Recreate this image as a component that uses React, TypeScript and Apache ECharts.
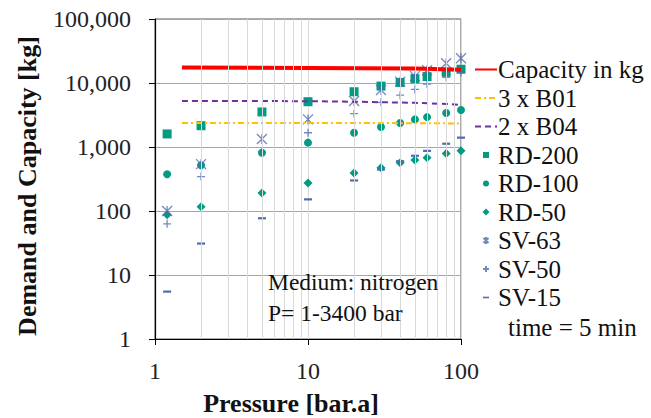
import React, { useEffect, useRef } from "react";
import * as echarts from "echarts";

const pressures = [1.2, 2, 5, 10, 20, 30, 40, 50, 60, 80, 100];
const rd200 = [1600, 2150, 3530, 5100, 7300, 8950, 10200, 11700, 12600, 14700, 16400];
const rd100 = [375, 520, 815, 1170, 1670, 2050, 2370, 2700, 2930, 3400, 3780];
const rd50 = [87, 117, 191, 275, 393, 475, 565, 628, 680, 790, 875];
const sv63 = [100, 540, 1330, 2700, 5230, 7770, 10500, 12800, 15800, 20300, 24400];
const sv50 = [63, 345, 840, 1670, 3320, 4990, 6450, 7950, 9600, 12300, 14700];
const sv15 = [5.5, 31, 77, 152, 300, 445, 600, 730, 870, 1125, 1400];

const capacityX = [1.5, 10, 50, 100];
const capacityY = [17500, 17200, 16800, 16100];
const b01X = [1.5, 50, 100];
const b01Y = [2370, 2360, 2330];
const b04X = [1.5, 10, 20, 50, 80, 100];
const b04Y = [5250, 5200, 5100, 4900, 4700, 4550];

const minorGridX = [2, 3, 4, 5, 6, 7, 8, 9, 20, 30, 40, 50, 60, 70, 80, 90];

const TEAL = "#009b80";
const BLUE = "#4f6bb0";
const FONT = "'Liberation Serif', 'Times New Roman', serif";

const zip = (xs: number[], ys: number[]) => xs.map((x, i) => [x, ys[i]]);

export default function App() {
  const ref = useRef<HTMLDivElement>(null);
  useEffect(() => {
    if (!ref.current) return;
    const chart = echarts.init(ref.current, undefined, { renderer: "svg" });
    const strokeStyle = { color: "rgba(0,0,0,0)", borderColor: BLUE, borderWidth: 1.3 };
    const hiddenSym = { opacity: 0, color: "rgba(0,0,0,0)", borderWidth: 0 };
    const option: any = {
      animation: false,
      backgroundColor: "#ffffff",
      grid: {
        left: 155,
        top: 19,
        width: 306,
        height: 320,
        show: true,
        borderColor: "#595959",
        borderWidth: 1,
        containLabel: false,
      },
      xAxis: {
        type: "log",
        logBase: 10,
        min: 1,
        max: 100,
        axisLine: { show: true, lineStyle: { color: "#000", width: 1.2 } },
        axisTick: { show: true, inside: false, length: 6, lineStyle: { color: "#000" } },
        axisLabel: { margin: 20, fontSize: 24, fontFamily: FONT, color: "#222" },
        splitLine: { show: true, lineStyle: { color: "#d9d9d9", width: 1 } },
      },
      yAxis: {
        type: "log",
        logBase: 10,
        min: 1,
        max: 100000,
        axisLine: { show: true, lineStyle: { color: "#000", width: 1.2 } },
        axisTick: { show: true, inside: false, length: 6, lineStyle: { color: "#000" } },
        axisLabel: {
          margin: 24,
          fontSize: 24,
          fontFamily: FONT,
          color: "#222",
          formatter: (v: number) => Math.round(v).toLocaleString("en-US"),
        },
        splitLine: { show: true, lineStyle: { color: "#a6a6a6", width: 1 } },
      },
      legend: {
        orient: "vertical",
        left: 469,
        top: 52,
        padding: 5,
        itemWidth: 22,
        itemHeight: 10,
        itemGap: 3.5,
        textStyle: { fontSize: 25, fontFamily: FONT, color: "#111", padding: [0, 0, 0, -4] },
        data: [
          { name: "Capacity in kg", itemStyle: hiddenSym },
          { name: "3 x B01", itemStyle: hiddenSym },
          { name: "2 x B04", itemStyle: hiddenSym },
          { name: "RD-200", icon: "path://M0,0M22,10M8,2L14,2L14,8L8,8Z" },
          { name: "RD-100", icon: "path://M0,0M22,10M14,5A3,3,0,1,1,8,5A3,3,0,1,1,14,5Z" },
          { name: "RD-50", icon: "path://M0,0M22,10M11,1.5L14.5,5L11,8.5L7.5,5Z" },
          { name: "SV-63", icon: "path://M0,0M22,10M8.5,2.5L13.5,7.5M13.5,2.5L8.5,7.5M11,1.5L11,8.5" },
          { name: "SV-50", icon: "path://M0,0M22,10M11,2L11,8M8,5L14,5" },
          { name: "SV-15", icon: "path://M0,0M22,10M8,4.2L14,4.2L14,5.8L8,5.8Z" },
        ],
      },
      series: [
        {
          name: "_grid",
          type: "line",
          z: 1,
          data: [[1, 1]],
          showSymbol: false,
          symbol: "none",
          lineStyle: { opacity: 0 },
          silent: true,
          markLine: {
            silent: true,
            symbol: ["none", "none"],
            label: { show: false },
            lineStyle: { color: "#d9d9d9", type: "solid", width: 1 },
            emphasis: { disabled: true },
            data: minorGridX.map((v) => ({ xAxis: v })),
          },
        },
        {
          name: "Capacity in kg",
          type: "line",
          data: zip(capacityX, capacityY),
          symbol: "none",
          lineStyle: { color: "#ff0000", width: 4 },
          itemStyle: { color: "#ff0000" },
        },
        {
          name: "3 x B01",
          type: "line",
          data: zip(b01X, b01Y),
          symbol: "none",
          lineStyle: { color: "#ffc000", width: 2, type: [6, 3, 2, 3] },
          itemStyle: { color: "#ffc000" },
        },
        {
          name: "2 x B04",
          type: "line",
          data: zip(b04X, b04Y),
          symbol: "none",
          lineStyle: { color: "#7030a0", width: 2, type: [6, 4] },
          itemStyle: { color: "#7030a0" },
        },
        {
          name: "RD-200",
          type: "scatter",
          data: zip(pressures, rd200),
          symbol: "rect",
          symbolSize: 9,
          itemStyle: { color: TEAL, opacity: 1 },
        },
        {
          name: "RD-100",
          type: "scatter",
          data: zip(pressures, rd100),
          symbol: "circle",
          symbolSize: 8,
          itemStyle: { color: TEAL, opacity: 1 },
        },
        {
          name: "RD-50",
          type: "scatter",
          data: zip(pressures, rd50),
          symbol: "diamond",
          symbolSize: 9,
          itemStyle: { color: TEAL, opacity: 1 },
        },
        {
          name: "SV-63",
          type: "scatter",
          data: zip(pressures, sv63),
          symbol: "path://M0,0L10,10M10,0L0,10M5,0L5,10",
          symbolSize: 10,
          itemStyle: strokeStyle,
        },
        {
          name: "SV-50",
          type: "scatter",
          data: zip(pressures, sv50),
          symbol: "path://M5,0L5,10M0,5L10,5",
          symbolSize: 8,
          itemStyle: strokeStyle,
        },
        {
          name: "SV-15",
          type: "scatter",
          data: zip(pressures, sv15),
          symbol: "path://M0,0L10,0L10,2L0,2Z",
          symbolSize: [8, 2.2],
          itemStyle: { color: BLUE, opacity: 1 },
        },
      ],
      graphic: [
        {
          type: "text",
          x: 27,
          y: 186,
          rotation: Math.PI / 2,
          style: {
            text: "Demand and Capacity [kg]",
            font: `bold 26px ${FONT}`,
            fill: "#111",
            textAlign: "center",
            textVerticalAlign: "middle",
          },
        },
        {
          type: "text",
          x: 291,
          y: 403,
          style: {
            text: "Pressure [bar.a]",
            font: `bold 26px ${FONT}`,
            fill: "#111",
            textAlign: "center",
            textVerticalAlign: "middle",
          },
        },
        {
          type: "text",
          x: 268,
          y: 282,
          z: 50,
          style: {
            text: "Medium: nitrogen",
            font: `23.5px ${FONT}`,
            fill: "#111",
            textAlign: "left",
            textVerticalAlign: "middle",
          },
        },
        {
          type: "text",
          x: 268,
          y: 313,
          z: 50,
          style: {
            text: "P= 1-3400 bar",
            font: `23.5px ${FONT}`,
            fill: "#111",
            textAlign: "left",
            textVerticalAlign: "middle",
          },
        },
        {
          type: "text",
          x: 508,
          y: 327,
          style: {
            text: "time = 5 min",
            font: `25px ${FONT}`,
            fill: "#111",
            textAlign: "left",
            textVerticalAlign: "middle",
          },
        },
      ],
    };
    chart.setOption(option);
    return () => chart.dispose();
  }, []);
  return (
    <div
      ref={ref}
      style={{ position: "fixed", left: 0, top: 0, width: 651, height: 418, background: "#fff" }}
    />
  );
}
